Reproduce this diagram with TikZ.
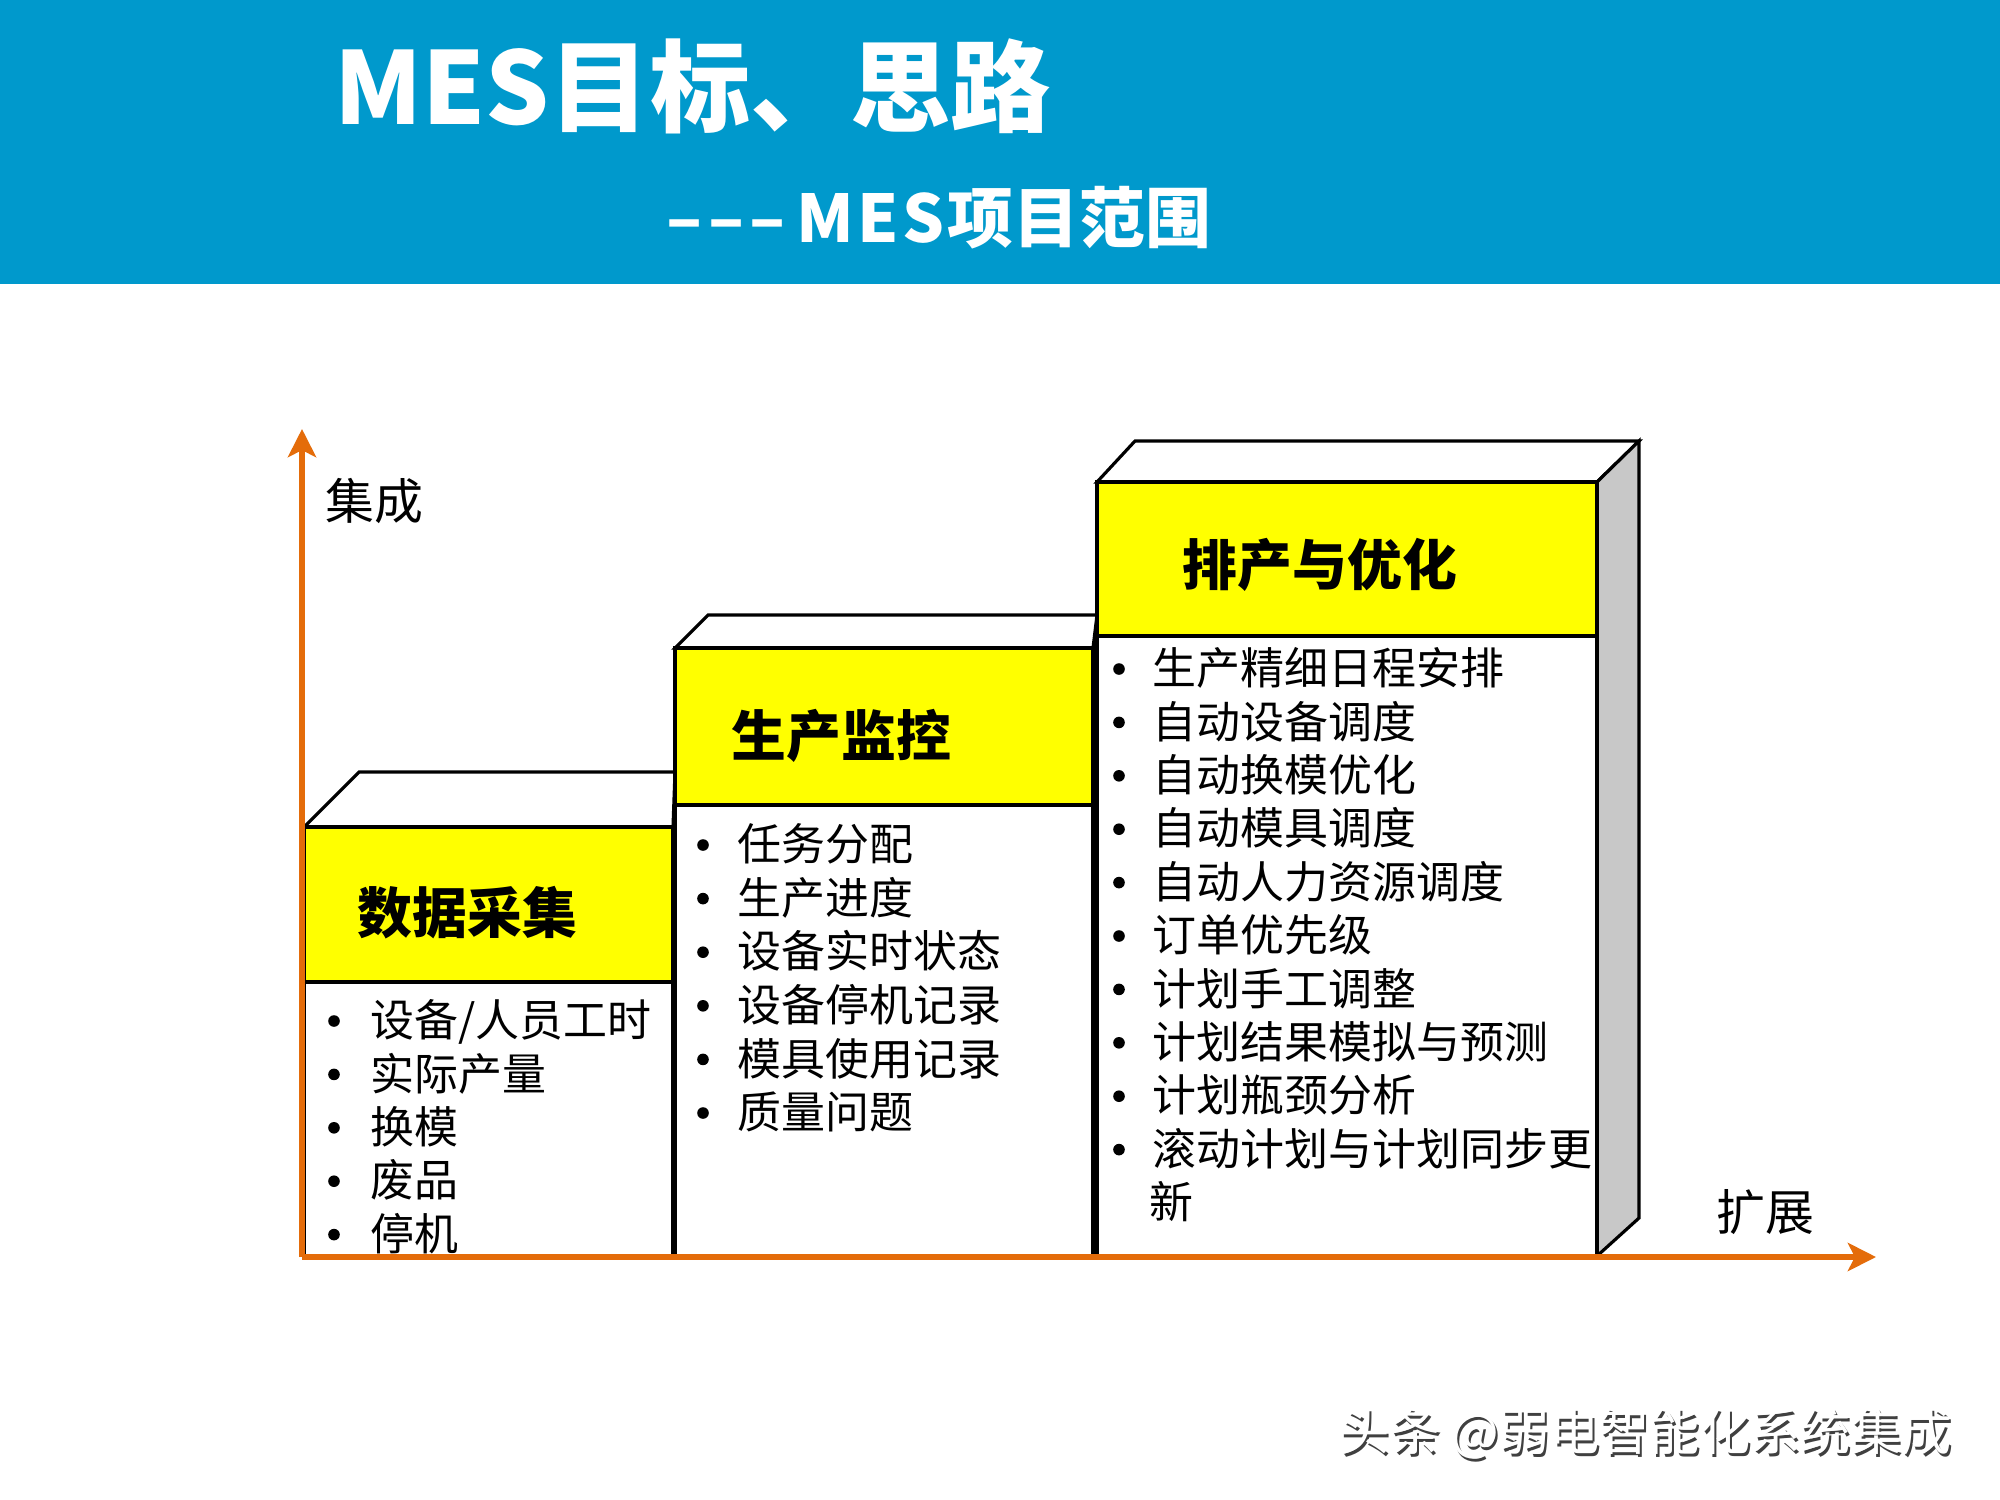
\documentclass[tikz,border=0pt]{standalone}
\usepackage{fontspec}
\newfontfamily\cjk{Noto Sans CJK SC}
\usetikzlibrary{arrows.meta}
\definecolor{bandblue}{RGB}{0,153,204}
\definecolor{axisorange}{RGB}{228,108,10}
\definecolor{sidegray}{RGB}{200,200,200}
\definecolor{boxyellow}{RGB}{255,255,0}
\begin{document}
\begin{tikzpicture}[x=0.01cm,y=-0.01cm,
  face/.style={draw=black,line width=0.9pt,line join=miter},
  front/.style={draw=black,line width=1.3pt},
  axis/.style={draw=axisorange,line width=1.7pt,-{Stealth[length=8pt,width=8pt,inset=2pt]}},
  item/.style={anchor=west,inner sep=0pt,font=\cjk\fontsize{12.5}{15}\selectfont,text height=11pt,text depth=1.5pt},
  bul/.style={circle,fill=black,inner sep=0pt,minimum size=3.3pt},
  head/.style={anchor=west,inner sep=0pt,font=\cjk\bfseries\fontsize{15.6}{18}\selectfont,text height=13.7pt,text depth=1.9pt},
  axlab/.style={anchor=west,inner sep=0pt,font=\cjk\fontsize{13.9}{16}\selectfont,text height=12.2pt,text depth=1.7pt},
  wm/.style={anchor=west,inner sep=0pt,font=\cjk\fontsize{14.3}{16}\selectfont,text height=12.6pt,text depth=1.7pt}
]
\useasboundingbox (0,0) rectangle (2000,1500);
\fill[white] (0,0) rectangle (2000,1500);
\fill[bandblue] (0,0) rectangle (2000,284);

% title
\node[anchor=west,inner sep=0pt,text=white,font=\cjk\bfseries\fontsize{28.5}{32}\selectfont,text height=25.1pt,text depth=3.4pt] (title) at (334,86) {MES目标、思路};
\node[anchor=west,inner sep=0pt,text=white,font=\cjk\bfseries\fontsize{18.7}{22}\selectfont,text height=16.5pt,text depth=2.2pt] (subtitle) at (666,217) {–\kern1.5pt–\kern1.5pt–\kern3pt M\kern1pt E\kern1pt S\kern1pt 项目范围};

% block 1
\filldraw[face,fill=white] (304,827) -- (359,772) -- (675,772) -- (673,827) -- cycle;
\fill[white] (304,982) rectangle (673,1256);
\fill[boxyellow] (304,827) rectangle (673,982);
\draw[front] (304,827) rectangle (673,1256);
\draw[front] (304,982) -- (673,982);

% block 2
\filldraw[face,fill=white] (675,648) -- (708,615) -- (1097,615) -- (1093,648) -- cycle;
\fill[white] (675,805) rectangle (1093,1256);
\fill[boxyellow] (675,648) rectangle (1093,805);
\draw[front] (675,648) rectangle (1093,1256);
\draw[front] (675,805) -- (1093,805);

% block 3
\filldraw[face,fill=white] (1097,482) -- (1135,441) -- (1639,441) -- (1597,482) -- cycle;
\filldraw[face,fill=sidegray] (1597,482) -- (1639,441) -- (1639,1218) -- (1597,1256) -- cycle;
\fill[white] (1097,636) rectangle (1597,1256);
\fill[boxyellow] (1097,482) rectangle (1597,636);
\draw[front] (1097,482) rectangle (1597,1256);
\draw[front] (1097,636) -- (1597,636);

% headers
\node[head] (h1) at (357,913) {数据采集};
\node[head] (h2) at (731,736) {生产监控};
\node[head] (h3) at (1182,565) {排产与优化};

% lists
\foreach \t [count=\i] in {设备/人员工时,实际产量,换模,废品,停机} {
  \node[bul] (b1b\i) at (334,{1021+53.4*(\i-1)}) {};
  \node[item] (b1t\i) at (370,{1020+53.4*(\i-1)}) {\t};
}
\foreach \t [count=\i] in {任务分配,生产进度,设备实时状态,设备停机记录,模具使用记录,质量问题} {
  \node[bul] (b2b\i) at (703,{845+53.6*(\i-1)}) {};
  \node[item] (b2t\i) at (737,{844+53.6*(\i-1)}) {\t};
}
\foreach \t [count=\i] in {生产精细日程安排,自动设备调度,自动换模优化,自动模具调度,自动人力资源调度,订单优先级,计划手工调整,计划结果模拟与预测,计划瓶颈分析,滚动计划与计划同步更} {
  \node[bul] (b3b\i) at (1119,{669+53.4*(\i-1)}) {};
  \node[item] (b3t\i) at (1152,{668+53.4*(\i-1)}) {\t};
}
\node[item] (b3t11) at (1149,1202) {新};

% axis labels
\node[axlab] (ylab) at (325,501) {集成};
\node[axlab] (xlab) at (1716,1212) {扩展};

% axes
\coordinate (O) at (302,1257);
\coordinate (Ytip) at (302,429);
\coordinate (Xtip) at (1876,1257);
\draw[axis] (O) -- (Ytip);
\draw[axis] (O) -- (Xtip);

% watermark
\node[wm,text=black!75] (wmshadow) at (1341,1434) {头条 @弱电智能化系统集成};
\node[wm,text=white] (wmtext) at (1339,1431) {头条 @弱电智能化系统集成};
\end{tikzpicture}
\end{document}
